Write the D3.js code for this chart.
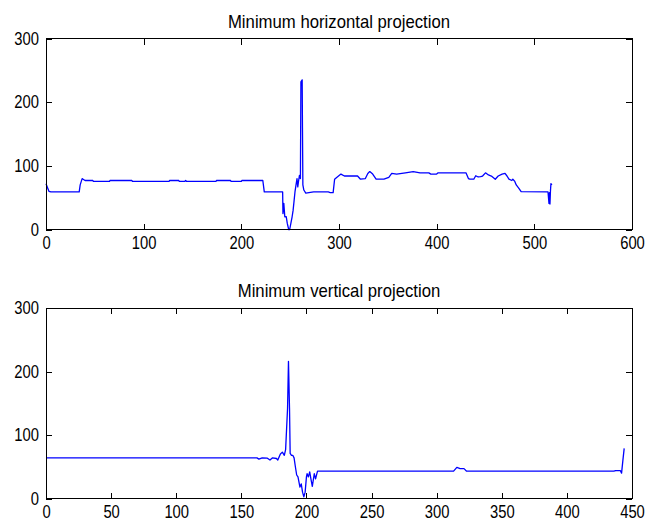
<!DOCTYPE html>
<html>
<head>
<meta charset="utf-8">
<script src="https://cdn.jsdelivr.net/npm/d3@7"></script>
<style>
    body { margin: 0; background: #fff; }
    svg text { font-family: "Liberation Sans", Arial, sans-serif; fill: #000; }
    .axis path { display: none; }
    .axis line { stroke: #000; shape-rendering: crispEdges; }
    .frame { fill: none; stroke: #000; shape-rendering: crispEdges; }
    .trace { fill: none; stroke: #0000ff; stroke-width: 1.3; stroke-linejoin: round; }
</style>
</head>
<body>
<div id="chart"></div>
<script>

// upper panel: minimum horizontal projection
let horizX = [0, 1, 3, 5, 34, 35, 37, 38, 40, 48, 48.5, 65, 65.5, 88, 88.5, 126, 126.5, 136, 136.5, 142, 143, 144,
    174, 174.5, 189, 189.5, 200, 200.5, 222, 223.5, 242.3, 242.6, 243.5, 244.5, 246, 247, 248.5, 249.5, 251, 252,
    253, 254, 255, 256, 257, 257.8, 258.5, 259.5, 260.5, 261, 262.3, 262.6, 263, 264, 266, 274, 289, 291, 294,
    295.5, 297, 302, 305.5, 319, 322, 327, 329.5, 331.5, 334.5, 338, 346, 351, 354, 359, 368, 376, 383, 392, 394,
    400, 401.5, 430, 432.5, 434, 438, 440, 442.5, 445, 447, 450, 453, 456, 460, 463, 467, 470, 472, 474, 477, 478,
    480, 481.5, 484, 486.5, 514, 515, 515.5, 516, 516.5, 517, 518];
let horizY = [72, 68, 60, 59, 59, 70, 80, 79, 77, 77, 75.5, 75.5, 77, 77, 75.5, 75.5, 77, 77, 75.5, 75.5, 77, 75.5,
    75.5, 77, 77, 75.5, 75.5, 77, 77, 59, 59, 25, 41, 20, 20, 10, 0, 0, 12, 20,
    30, 45, 60, 70, 80, 67, 75, 85, 80, 232, 235, 160, 70, 62, 57, 59, 59, 58, 58,
    79, 81, 87, 84, 84, 79, 80, 88, 91, 87, 79, 79, 82, 88, 87, 89, 91, 89, 89, 87,
    87, 89, 89, 80, 79, 79, 84.5, 82.5, 83, 84, 89, 85.7, 84, 79, 84, 87, 88, 84, 79, 77, 79,
    75.5, 70, 65, 59.4, 59, 41, 58, 40, 60, 72, 70];
let horizTicks = [0, 100, 200, 300, 400, 500, 600];

// lower panel: minimum vertical projection
let vertX = [0, 162, 163.5, 166, 170, 172, 174, 177, 178, 180, 181.5, 183, 184, 185.5, 186.2, 187, 187.5, 188.5,
    189.5, 190.5, 191.5, 192.5, 193.5, 195, 196, 197, 198, 199, 200, 200.5, 201.5, 202.5, 203.5, 204.5, 206, 207,
    208.5, 313, 315.5, 318, 321, 323, 436, 437.5, 441, 442, 443, 444];
let vertY = [64, 64, 62, 64, 63.5, 60.5, 64, 63, 60.5, 70, 73, 68, 77, 142, 216, 142, 71, 68,
    68, 64, 50, 37, 34, 18, 23, 10, 2.5, 10, 34, 39, 34, 42, 30, 19, 39, 31,
    43, 43, 49, 47, 47, 43, 43, 44, 44, 40, 60, 79];
let vertTicks = [0, 50, 100, 150, 200, 250, 300, 350, 400, 450];

let yTicks = [0, 100, 200, 300];

let svg = d3.select("#chart").append("svg")
    .attr("width", 647)
    .attr("height", 523);

// squeeze glyphs horizontally so they look like the narrow bitmap font of the original
function narrow(sel, factor) {
    sel.each(function() {
        let w = this.getComputedTextLength();
        d3.select(this)
            .attr("textLength", w * factor)
            .attr("lengthAdjust", "spacingAndGlyphs");
    });
}

function drawPanel(top, bottom, title, xs, ys, xTicks) {
    let left = 46, right = 632;

    let x = d3.scaleLinear()
        .domain([xTicks[0], xTicks[xTicks.length - 1]])
        .range([left, right]);
    let y = d3.scaleLinear()
        .domain([0, 300])
        .range([bottom, top]);

    let g = svg.append("g");

    // data line
    let pts = xs.map((d, i) => [d, ys[i]]);
    g.append("path")
        .datum(pts)
        .attr("class", "trace")
        .attr("d", d3.line().x(d => x(d[0])).y(d => y(d[1])));

    // ticks point inwards on all four sides, labels only bottom / left
    g.append("g")
        .attr("class", "axis")
        .attr("transform", `translate(0, ${bottom})`)
        .call(d3.axisBottom(x).tickValues(xTicks).tickSizeInner(-6).tickSizeOuter(0).tickPadding(7))
        .selectAll("text")
        .style("font-size", "18px")
        .call(narrow, 0.82);
    g.append("g")
        .attr("class", "axis")
        .attr("transform", `translate(0, ${top})`)
        .call(d3.axisTop(x).tickValues(xTicks).tickSizeInner(-6).tickSizeOuter(0).tickFormat(""));
    g.append("g")
        .attr("class", "axis")
        .attr("transform", `translate(${left}, 0)`)
        .call(d3.axisLeft(y).tickValues(yTicks).tickSizeInner(-6).tickSizeOuter(0).tickPadding(7))
        .selectAll("text")
        .style("font-size", "18px")
        .call(narrow, 0.82);
    g.append("g")
        .attr("class", "axis")
        .attr("transform", `translate(${right}, 0)`)
        .call(d3.axisRight(y).tickValues(yTicks).tickSizeInner(-6).tickSizeOuter(0).tickFormat(""));

    g.append("rect")
        .attr("class", "frame")
        .attr("x", left)
        .attr("y", top)
        .attr("width", right - left)
        .attr("height", bottom - top);

    g.append("text")
        .attr("x", (left + right) / 2)
        .attr("y", top - 11)
        .attr("text-anchor", "middle")
        .style("font-size", "19px")
        .text(title)
        .call(narrow, 0.88);
}

drawPanel(38.5, 229.5, "Minimum horizontal projection", horizX, horizY, horizTicks);
drawPanel(308, 498.5, "Minimum vertical projection", vertX, vertY, vertTicks);

</script>
</body>
</html>
